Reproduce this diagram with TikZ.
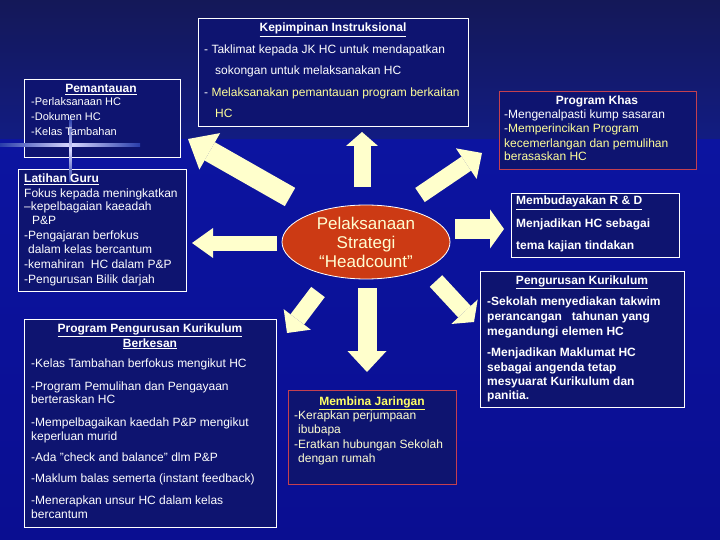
\documentclass[tikz,border=0pt]{standalone}
\usepackage{fontspec}
\setmainfont{Liberation Sans}
\usetikzlibrary{shapes.geometric,arrows.meta}
\definecolor{bgtop}{RGB}{20,24,88}
\definecolor{bgband}{RGB}{18,28,130}
\definecolor{bgmid}{RGB}{12,20,160}
\definecolor{bgbot}{RGB}{10,14,145}
\definecolor{boxc}{RGB}{14,20,112}
\definecolor{redb}{RGB}{196,64,80}
\definecolor{arrc}{RGB}{255,255,204}
\definecolor{ellc}{RGB}{204,58,20}
\definecolor{yel}{RGB}{255,255,153}
\definecolor{yeltitle}{RGB}{255,255,102}
\definecolor{cream}{RGB}{255,255,210}
\definecolor{flarec}{RGB}{40,60,170}
\newcommand\tline[4][]{\node[txt,#1] (#2) at (#3) {#4};}
\begin{document}
\begin{tikzpicture}[x=1pt,y=-1pt,
  box/.style={draw=white, line width=0.8pt, fill=boxc, anchor=north west, inner sep=0},
  redbox/.style={box, draw=redb},
  txt/.style={inner sep=0, anchor=west, text height=8pt, text depth=2pt, text=white, font=\fontsize{12}{14}\selectfont},
  ctr/.style={anchor=center},
  bd/.style={font=\fontsize{12}{14}\selectfont\bfseries},
  sm/.style={font=\fontsize{11}{13}\selectfont},
  yl/.style={text=yel},
  arr/.style={draw=arrc, line cap=butt}]
\useasboundingbox (0,0) rectangle (720,540);
% background
\shade[top color=bgtop, bottom color=bgband] (0,0) rectangle (720,140);
\shade[top color=bgmid, bottom color=bgbot] (0,140) rectangle (720,540);

% arrows
\coordinate (au1) at (362,187); \coordinate (au2) at (362,132);
\draw[arr, line width=17pt, -{Triangle[width=32pt,length=14pt,line width=0pt]}] (au1) -- (au2);
\coordinate (ad1) at (367,288); \coordinate (ad2) at (367,372);
\draw[arr, line width=19pt, -{Triangle[width=39pt,length=21pt,line width=0pt]}] (ad1) -- (ad2);
\coordinate (al1) at (277,243); \coordinate (al2) at (192,243);
\draw[arr, line width=15pt, -{Triangle[width=30pt,length=21pt,line width=0pt]}] (al1) -- (al2);
\coordinate (ar1) at (455,229); \coordinate (ar2) at (504,229);
\draw[arr, line width=20pt, -{Triangle[width=39pt,length=14pt,line width=0pt]}] (ar1) -- (ar2);
\coordinate (aul1) at (290,197); \coordinate (aul2) at (188,139);
\draw[arr, line width=21pt, -{Triangle[width=42pt,length=25pt,line width=0pt]}] (aul1) -- (aul2);
\coordinate (aur1) at (420,195); \coordinate (aur2) at (482,153);
\draw[arr, line width=17pt, -{Triangle[width=37pt,length=19pt,line width=0pt]}] (aur1) -- (aur2);
\coordinate (adl1) at (318,292); \coordinate (adl2) at (287,333);
\draw[arr, line width=17pt, -{Triangle[width=34pt,length=17pt,line width=0pt]}] (adl1) -- (adl2);
\coordinate (adr1) at (436,281); \coordinate (adr2) at (474,322);
\draw[arr, line width=17pt, -{Triangle[width=36pt,length=14pt,line width=0pt]}] (adr1) -- (adr2);

% boxes
\node[box, minimum width=270, minimum height=108] (kep) at (198,18) {};
\node[box, minimum width=156, minimum height=78] (pem) at (24,79) {};
\node[box, minimum width=168, minimum height=122] (lat) at (18,169) {};
\node[redbox, minimum width=197, minimum height=78] (khas) at (499,91) {};
\node[box, minimum width=168, minimum height=64] (rd) at (511,193) {};
\node[box, minimum width=204, minimum height=136] (kur) at (480,271) {};
\node[box, minimum width=252, minimum height=208] (ppk) at (24,319) {};
\node[redbox, minimum width=168, minimum height=94] (jar) at (288,390) {};

% lens flare
\shade[left color=flarec, right color=flarec, middle color=white!85!blue] (0,144) rectangle (140,146.5);
\shade[top color=flarec, bottom color=flarec, middle color=white!85!blue] (69,118) rectangle (71.5,182);

% Kepimpinan
\tline[ctr,bd]{k0}{333,29}{\underline{Kepimpinan Instruksional}}
\tline{k1}{204,51}{- Taklimat kepada JK HC untuk mendapatkan}
\tline{k2}{215,72}{sokongan untuk melaksanakan HC}
\tline[yl]{k3}{204,94}{\textcolor{white}{-} Melaksanakan pemantauan program berkaitan}
\tline[yl]{k4}{215,115}{HC}
% Pemantauan
\tline[ctr,bd]{p0}{101,90}{\underline{Pemantauan}}
\tline[sm]{p1}{31,103}{-Perlaksanaan HC}
\tline[sm]{p2}{31,118}{-Dokumen HC}
\tline[sm]{p3}{31,133}{-Kelas Tambahan}
% Latihan Guru
\tline[bd]{l0}{24,180}{\underline{Latihan Guru}}
\tline{l1}{24,194}{Fokus kepada meningkatkan}
\tline{l2}{24,208}{–kepelbagaian kaeadah}
\tline{l3}{32,222}{P\&P}
\tline{l4}{24,237}{-Pengajaran berfokus}
\tline{l5}{28,251}{dalam kelas bercantum}
\tline{l6}{24,265}{-kemahiran\ \ HC dalam P\&P}
\tline{l7}{24,280}{-Pengurusan Bilik darjah}
% Program Khas
\tline[ctr,bd]{h0}{597,102}{Program Khas}
\tline{h1}{504,116}{-Mengenalpasti kump sasaran}
\tline{h2}{504,130}{-\textcolor{yel}{Memperincikan Program}}
\tline[yl]{h3}{504,145}{kecemerlangan dan pemulihan}
\tline[yl]{h4}{504,158}{berasaskan HC}
% R & D
\tline[bd]{r0}{516,202}{\underline{Membudayakan R \& D}}
\tline[bd]{r1}{516,225}{Menjadikan HC sebagai}
\tline[bd]{r2}{516,246}{tema kajian tindakan}
% Pengurusan Kurikulum
\tline[ctr,bd]{c0}{582,281}{\underline{Pengurusan Kurikulum}}
\tline[bd]{c1}{487,302}{-Sekolah menyediakan takwim}
\tline[bd]{c2}{487,317}{perancangan\ \ \ tahunan yang}
\tline[bd]{c3}{487,332}{megandungi elemen HC}
\tline[bd]{c4}{487,353}{-Menjadikan Maklumat HC}
\tline[bd]{c5}{487,368}{sebagai angenda tetap}
\tline[bd]{c6}{487,382}{mesyuarat Kurikulum dan}
\tline[bd]{c7}{487,396}{panitia.}
% Program Pengurusan Kurikulum Berkesan
\tline[ctr,bd]{q0}{150,329}{\underline{Program Pengurusan Kurikulum}}
\tline[ctr,bd]{q1}{150,344}{\underline{Berkesan}}
\tline{q2}{31,364}{-Kelas Tambahan berfokus mengikut HC}
\tline{q3}{31,387}{-Program Pemulihan dan Pengayaan}
\tline{q4}{31,400}{berteraskan HC}
\tline{q5}{31,423}{-Mempelbagaikan kaedah P\&P mengikut}
\tline{q6}{31,437}{keperluan murid}
\tline{q7}{31,458}{-Ada "check and balance" dlm P\&P}
\tline{q8}{31,479}{-Maklum balas semerta (instant feedback)}
\tline{q9}{31,501}{-Menerapkan unsur HC dalam kelas}
\tline{q10}{31,515}{bercantum}
% Membina Jaringan
\tline[ctr,bd,text=yeltitle]{j0}{372,402}{\underline{Membina Jaringan}}
\tline[text=cream]{j1}{294,416}{-Kerapkan perjumpaan}
\tline[text=cream]{j2}{298,430}{ibubapa}
\tline[text=cream]{j3}{294,445}{-Eratkan hubungan Sekolah}
\tline[text=cream]{j4}{298,459}{dengan rumah}

% centre
\node[ellipse, draw=white, line width=0.8pt, fill=ellc, minimum width=168, minimum height=74, inner sep=0, align=center, text=cream, font=\fontsize{17}{19}\selectfont] (c) at (366,242) {Pelaksanaan\\Strategi\\“Headcount”};
\end{tikzpicture}
\end{document}
